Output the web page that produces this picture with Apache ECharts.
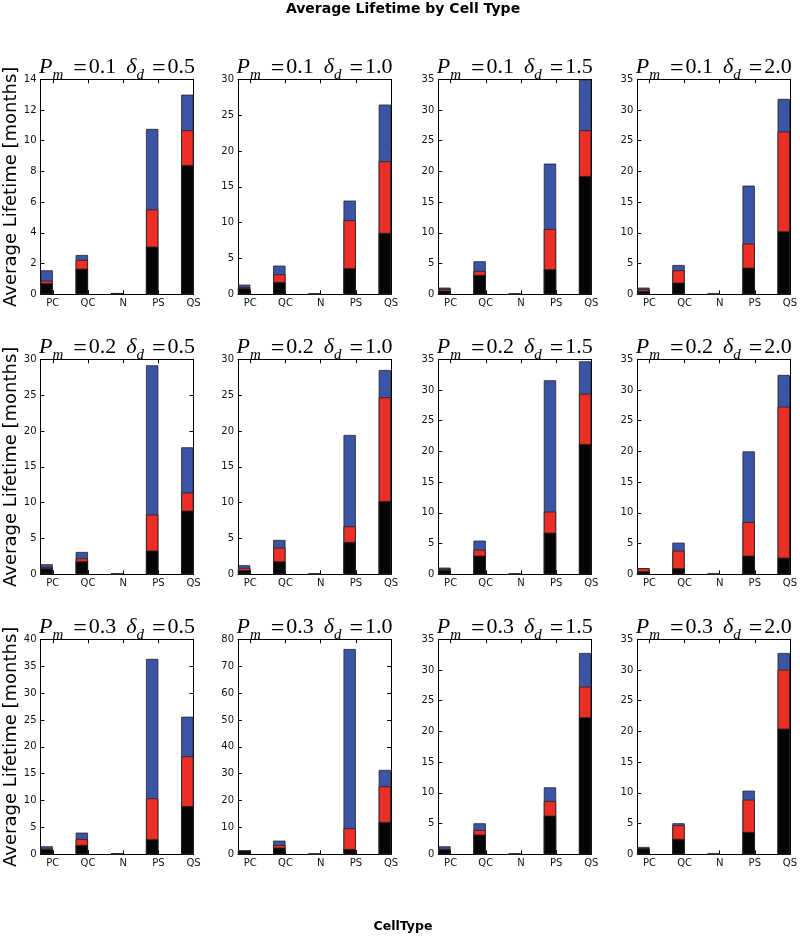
<!DOCTYPE html>
<html>
<head>
<meta charset="utf-8">
<script src="https://cdn.jsdelivr.net/npm/echarts@6/dist/echarts.min.js"></script>
<style>
html,body{margin:0;padding:0;background:#fff;}
#chart{width:800px;height:937px;}
</style>
</head>
<body>
<div id="chart"></div>
<script>
// ---------------- data ----------------
const categories = ['PC', 'QC', 'N', 'PS', 'QS'];
const pmValues = ['0.1', '0.2', '0.3'];
const deltaValues = ['0.5', '1.0', '1.5', '2.0'];
const yMaxRow1 = [14, 30, 35, 35];
const yMaxRow2 = [30, 30, 35, 35];
const yMaxRow3 = [40, 80, 35, 35];
const yStepRow1 = [2, 5, 5, 5];
const yStepRow2 = [5, 5, 5, 5];
const yStepRow3 = [5, 10, 5, 5];

// cumulative bar tops: black (bottom), red (middle), blue (total)
const black_p1_d05 = [0.72, 1.67, 0.08, 3.10, 8.42];
const red_p1_d05   = [0.89, 2.24, 0.08, 5.53, 10.68];
const blue_p1_d05  = [1.56, 2.56, 0.08, 10.77, 13.00];
const black_p1_d10 = [0.84, 1.72, 0.05, 3.63, 8.56];
const red_p1_d10   = [1.00, 2.79, 0.05, 10.33, 18.56];
const blue_p1_d10  = [1.35, 4.00, 0.05, 13.07, 26.47];
const black_p1_d15 = [0.60, 3.15, 0.05, 4.07, 19.26];
const red_p1_d15   = [0.85, 3.80, 0.05, 10.63, 26.70];
const blue_p1_d15  = [1.09, 5.37, 0.05, 21.27, 34.90];
const black_p1_d20 = [0.54, 1.90, 0.05, 4.34, 10.25];
const red_p1_d20   = [0.81, 3.90, 0.05, 8.25, 26.50];
const blue_p1_d20  = [1.09, 4.77, 0.05, 17.69, 31.80];

const black_p2_d05 = [0.84, 1.81, 0.05, 3.30, 8.88];
const red_p2_d05   = [1.02, 2.23, 0.05, 8.33, 11.40];
const blue_p2_d05  = [1.40, 3.12, 0.05, 29.16, 17.72];
const black_p2_d10 = [0.60, 1.81, 0.05, 4.51, 10.23];
const red_p2_d10   = [0.90, 3.72, 0.05, 6.70, 24.70];
const blue_p2_d10  = [1.26, 4.79, 0.05, 19.44, 28.50];
const black_p2_d15 = [0.70, 3.04, 0.05, 6.78, 21.20];
const red_p2_d15   = [0.85, 4.00, 0.05, 10.20, 29.40];
const blue_p2_d15  = [1.09, 5.48, 0.05, 31.58, 34.67];
const black_p2_d20 = [0.50, 0.98, 0.05, 3.04, 2.71];
const red_p2_d20   = [0.98, 3.85, 0.05, 8.52, 27.30];
const blue_p2_d20  = [1.00, 5.15, 0.05, 20.00, 32.45];

const black_p3_d05 = [0.93, 1.74, 0.10, 2.79, 8.99];
const red_p3_d05   = [1.05, 2.85, 0.10, 10.42, 18.23];
const blue_p3_d05  = [1.49, 4.03, 0.10, 36.34, 25.60];
const black_p3_d10 = [1.36, 2.48, 0.10, 1.98, 12.00];
const red_p3_d10   = [1.40, 3.47, 0.10, 9.67, 25.30];
const blue_p3_d10  = [1.45, 5.08, 0.10, 76.40, 31.40];
const black_p3_d15 = [0.81, 3.20, 0.05, 6.29, 22.30];
const red_p3_d15   = [0.90, 3.96, 0.05, 8.68, 27.30];
const blue_p3_d15  = [1.30, 5.05, 0.05, 10.90, 32.77];
const black_p3_d20 = [0.92, 2.50, 0.05, 3.64, 20.46];
const red_p3_d20   = [1.00, 4.72, 0.05, 8.90, 30.06];
const blue_p3_d20  = [1.19, 5.05, 0.05, 10.36, 32.77];

// ---------------- layout / style ----------------
const panels = [
  [[black_p1_d05, red_p1_d05, blue_p1_d05], [black_p1_d10, red_p1_d10, blue_p1_d10], [black_p1_d15, red_p1_d15, blue_p1_d15], [black_p1_d20, red_p1_d20, blue_p1_d20]],
  [[black_p2_d05, red_p2_d05, blue_p2_d05], [black_p2_d10, red_p2_d10, blue_p2_d10], [black_p2_d15, red_p2_d15, blue_p2_d15], [black_p2_d20, red_p2_d20, blue_p2_d20]],
  [[black_p3_d05, red_p3_d05, blue_p3_d05], [black_p3_d10, red_p3_d10, blue_p3_d10], [black_p3_d15, red_p3_d15, blue_p3_d15], [black_p3_d20, red_p3_d20, blue_p3_d20]]
];
const yMaxRows = [yMaxRow1, yMaxRow2, yMaxRow3];
const yStepRows = [yStepRow1, yStepRow2, yStepRow3];

const gridLefts = [40.5, 238, 438.3, 637.3];
const gridTops = [79.3, 359.3, 639.3];
const gridW = 153;
const gridH = 215;
const barFrac = 0.35;
const xMin = -barFrac, xMax = categories.length - 1;
const barPx = gridW * barFrac / (xMax - xMin);

const COL_BLACK = '#050505';
const COL_RED = '#ec2f26';
const COL_BLUE = '#3a55a6';
const EDGE = '#222';
const tickVals = categories.map((c, i) => i);

const grid = [], xAxis = [], yAxis = [], series = [], title = [], graphic = [];

title.push({
  text: 'Average Lifetime by Cell Type', left: 403, top: 2, textAlign: 'center', padding: 0,
  textStyle: { fontFamily: 'DejaVu Sans', fontWeight: 'bold', fontSize: 14, color: '#000' }
});
title.push({
  text: 'CellType', left: 403, top: 920, textAlign: 'center', padding: 0,
  textStyle: { fontFamily: 'DejaVu Sans', fontWeight: 'bold', fontSize: 12.5, color: '#000' }
});

const serif = 'Liberation Serif';
const MAIN = 22, SUB = 15, SUBDROP = 11;
const base = { fontFamily: serif, fontWeight: 'normal', color: '#000', verticalAlign: 'top' };
const titleRich = {
  it:  Object.assign({}, base, { fontStyle: 'italic', fontSize: MAIN }),
  sm:  Object.assign({}, base, { fontStyle: 'italic', fontSize: SUB, padding: [SUBDROP, 10, 0, 0] }),
  sd:  Object.assign({}, base, { fontStyle: 'italic', fontSize: SUB, padding: [SUBDROP, 8, 0, 0] }),
  eq:  Object.assign({}, base, { fontSize: MAIN + 2 }),
  rm1: Object.assign({}, base, { fontSize: MAIN, padding: [0, 10, 0, 2] }),
  rm2: Object.assign({}, base, { fontSize: MAIN, padding: [0, 0, 0, 2] })
};

const axisLineStyle = { show: true, onZero: false, lineStyle: { color: '#000', width: 1 } };

for (let r = 0; r < 3; r++) {
  for (let c = 0; c < 4; c++) {
    const k = grid.length;
    const left = gridLefts[c], top = gridTops[r];
    grid.push({ left: left, top: top, width: gridW, height: gridH, show: false });
    const yMax = yMaxRows[r][c], yStep = yStepRows[r][c];

    // bottom x (labels)
    xAxis.push({
      type: 'value', gridIndex: k, position: 'bottom', min: xMin, max: xMax,
      axisLine: axisLineStyle,
      axisTick: { show: true, inside: true, length: 4, customValues: tickVals, lineStyle: { color: '#000' } },
      axisLabel: { show: true, customValues: tickVals, formatter: v => categories[Math.round(v)],
        fontFamily: 'DejaVu Sans', fontSize: 10, color: '#111', margin: 4 },
      splitLine: { show: false }
    });
    // top x (ticks only)
    xAxis.push({
      type: 'value', gridIndex: k, position: 'top', min: xMin, max: xMax,
      axisLine: axisLineStyle,
      axisTick: { show: true, inside: true, length: 4, customValues: tickVals, lineStyle: { color: '#000' } },
      axisLabel: { show: false },
      splitLine: { show: false }
    });
    // left y
    yAxis.push({
      type: 'value', gridIndex: k, position: 'left', min: 0, max: yMax, interval: yStep,
      axisLine: axisLineStyle,
      axisTick: { show: true, inside: true, length: 4, lineStyle: { color: '#000' } },
      axisLabel: { show: true, fontFamily: 'DejaVu Sans', fontSize: 10, color: '#111', margin: 4 },
      splitLine: { show: false }
    });
    // right y
    yAxis.push({
      type: 'value', gridIndex: k, position: 'right', min: 0, max: yMax, interval: yStep,
      axisLine: axisLineStyle,
      axisTick: { show: true, inside: true, length: 4, lineStyle: { color: '#000' } },
      axisLabel: { show: false },
      splitLine: { show: false }
    });

    const [blk, red, blu] = panels[r][c];
    const layers = [[blu, COL_BLUE, 'blue'], [red, COL_RED, 'red'], [blk, COL_BLACK, 'black']];
    layers.forEach(([vals, col, nm]) => {
      series.push({
        type: 'bar', name: nm, xAxisIndex: 2 * k, yAxisIndex: 2 * k,
        barWidth: barPx, barGap: '-100%',
        itemStyle: { color: col, borderColor: EDGE, borderWidth: 0.8 },
        data: vals.map((v, i) => [i - barFrac / 2, v]),
        silent: true
      });
    });

    title.push({
      text: '{it|P}{sm|m}{eq|=}{rm1|' + pmValues[r] + '}{it|δ}{sd|d}{eq|=}{rm2|' + deltaValues[c] + '}',
      left: left + gridW / 2, top: top - 23, textAlign: 'center', padding: 0,
      textStyle: { fontWeight: 'normal', fontFamily: serif, rich: titleRich }
    });

    if (c === 0) {
      graphic.push({
        type: 'text', x: 11, y: top + gridH / 2, rotation: Math.PI / 2,
        style: { text: 'Average Lifetime [months]', fontFamily: 'DejaVu Sans', fontSize: 18,
          fill: '#000', align: 'center', verticalAlign: 'middle' }
      });
    }
  }
}

const chart = echarts.init(document.getElementById('chart'), null, { renderer: 'canvas' });
chart.setOption({
  animation: false,
  backgroundColor: '#fff',
  title: title,
  grid: grid,
  xAxis: xAxis,
  yAxis: yAxis,
  series: series,
  graphic: graphic
});
</script>
</body>
</html>
